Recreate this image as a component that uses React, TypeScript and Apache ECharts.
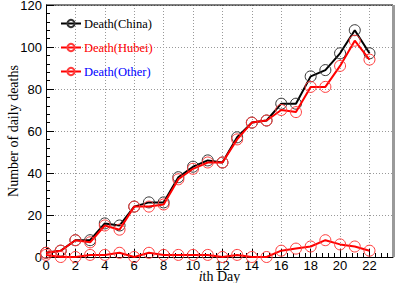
import React, { useEffect, useRef } from "react";
import * as echarts from "echarts";

const days = [0, 1, 2, 3, 4, 5, 6, 7, 8, 9, 10, 11, 12, 13, 14, 15, 16, 17, 18, 19, 20, 21, 22];
const deathChina = [2, 3, 8, 8, 16, 15, 24, 26, 26, 38, 43, 46, 45, 57, 64, 65, 73, 73, 86, 89, 97, 108, 97];
const deathHubei = [2, 3, 8, 7, 15, 13, 24, 24, 25, 37, 42, 45, 45, 56, 64, 65, 70, 69, 81, 81, 91, 103, 94];
const deathOther = [1, 0, 0, 1, 1, 2, 0, 2, 1, 1, 1, 1, 0, 1, 0, 0, 3, 4, 5, 8, 6, 5, 3];

const SERIF = "'Liberation Serif', 'DejaVu Serif', serif";
const SANS = "'Liberation Sans', Arial, sans-serif";

export default function App() {
  const ref = useRef<HTMLDivElement>(null);
  useEffect(() => {
    if (!ref.current) return;
    const chart = echarts.init(ref.current, undefined, { renderer: "svg" });
    const pair = (arr: number[]) => days.map((d, i) => [d, arr[i]]);
    const mk = (name: string, data: number[], line: string, mark: string, z: number) => ({
      name,
      type: "line",
      data: pair(data),
      symbol: "circle",
      symbolSize: 11,
      z,
      lineStyle: { color: line, width: 2 },
      itemStyle: { color: "rgba(0,0,0,0)", borderColor: mark, borderWidth: 1 },
      emphasis: { disabled: true },
    });
    chart.setOption({
      animation: false,
      backgroundColor: "#fff",
      grid: { left: 46, right: 6, top: 5, bottom: 26, containLabel: false, outerBoundsMode: "none" },
      legend: {
        orient: "vertical",
        left: 55,
        top: 12,
        itemWidth: 20,
        itemHeight: 9,
        itemGap: 11,
        textStyle: { fontFamily: SERIF, fontSize: 12.5, padding: [0, 0, 0, -2] },
        data: [
          { name: "Death(China)", textStyle: { color: "#000" } },
          { name: "Death(Hubei)", textStyle: { color: "#ff0000" } },
          { name: "Death(Other)", textStyle: { color: "#0000ff" } },
        ],
      },
      xAxis: {
        type: "value",
        min: 0,
        max: 23.6,
        interval: 2,
        name: "{i|i}{n|th Day}",
        nameLocation: "middle",
        nameGap: 13,
        nameMoveOverlap: false,
        nameTextStyle: {
          lineHeight: 13,
          rich: {
            i: { fontFamily: SERIF, fontSize: 14, lineHeight: 13, fontStyle: "italic", color: "#000" },
            n: { fontFamily: SERIF, fontSize: 14, lineHeight: 13, color: "#000" },
          },
        },
        axisLine: { show: true, lineStyle: { color: "#000", width: 1 } },
        axisTick: { show: true, inside: true, length: 8, lineStyle: { color: "#000" } },
        minorTick: { show: true, splitNumber: 5, length: 4, lineStyle: { color: "#000" } },
        axisLabel: {
          fontFamily: SANS,
          fontSize: 13,
          lineHeight: 12,
          color: "#000",
          margin: 2,
          showMaxLabel: false,
          formatter: (v: number) => (v > 22 ? "" : String(v)),
        },
        splitLine: { show: true, lineStyle: { color: "#999", type: [1, 2], width: 1 } },
      },
      yAxis: {
        type: "value",
        min: 0,
        max: 120,
        interval: 20,
        name: "Number of daily deaths",
        nameLocation: "middle",
        nameGap: 26,
        nameMoveOverlap: false,
        nameTextStyle: { fontFamily: SERIF, fontSize: 14, color: "#000" },
        axisLine: { show: true, lineStyle: { color: "#000", width: 1 } },
        axisTick: { show: true, inside: true, length: 8, lineStyle: { color: "#000" } },
        minorTick: { show: true, splitNumber: 5, length: 4, lineStyle: { color: "#000" } },
        axisLabel: { fontFamily: SANS, fontSize: 13, color: "#000", margin: 4 },
        splitLine: { show: true, lineStyle: { color: "#999", type: [1, 2], width: 1 } },
      },
      graphic: [
        { type: "line", shape: { x1: 46, y1: 5, x2: 393, y2: 5 }, style: { stroke: "#000", lineWidth: 1 }, z: 10 },
        { type: "rect", shape: { x: 392, y: 5, width: 3, height: 252 }, style: { fill: "#9a9a9a" }, z: 10 },
      ],
      series: [
        mk("Death(China)", deathChina, "#000000", "#333333", 2),
        mk("Death(Hubei)", deathHubei, "#ff0000", "#ff3b3b", 3),
        mk("Death(Other)", deathOther, "#ff0000", "#ff3b3b", 4),
      ],
    });
    return () => chart.dispose();
  }, []);
  return <div ref={ref} style={{ position: "fixed", left: 0, top: 0, width: 399, height: 283 }} />;
}
